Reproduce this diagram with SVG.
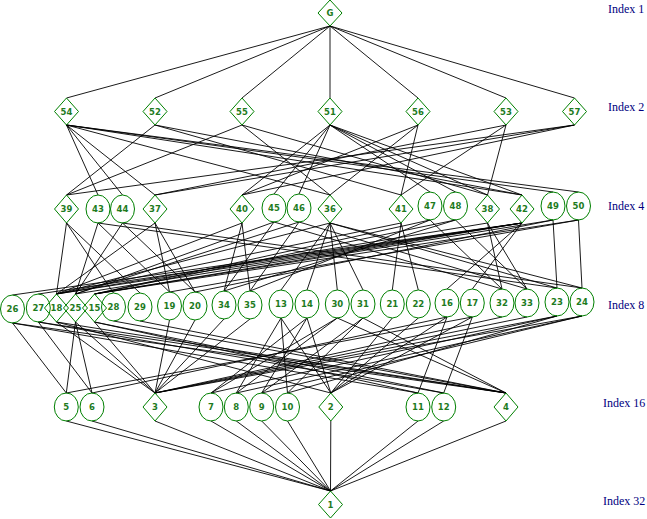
<svg xmlns="http://www.w3.org/2000/svg" width="647" height="519" viewBox="0 0 647 519">
<style>
.n{fill:none;stroke:#008000;stroke-width:1}
.t{font-family:"DejaVu Sans",sans-serif;font-size:8.5px;font-weight:bold;fill:#1e7b1e;text-anchor:middle}
.i{font-family:"Liberation Serif",serif;font-size:12px;fill:#000080}
#edges line{stroke:#000;stroke-width:0.9}
</style>
<rect width="647" height="519" fill="#fff"/>
<g id="edges">
<line x1="330" y1="26" x2="66.5" y2="98"/>
<line x1="330" y1="26" x2="155" y2="98"/>
<line x1="330" y1="26" x2="242" y2="98"/>
<line x1="330" y1="26" x2="330" y2="98"/>
<line x1="330" y1="26" x2="418" y2="98"/>
<line x1="330" y1="26" x2="506" y2="98"/>
<line x1="330" y1="26" x2="574.5" y2="98"/>
<line x1="66.5" y1="125" x2="98" y2="195"/>
<line x1="66.5" y1="125" x2="122.5" y2="195"/>
<line x1="66.5" y1="125" x2="553" y2="192"/>
<line x1="66.5" y1="125" x2="578.5" y2="192"/>
<line x1="66.5" y1="125" x2="522" y2="195"/>
<line x1="66.5" y1="125" x2="330" y2="195"/>
<line x1="66.5" y1="125" x2="155" y2="195"/>
<line x1="330" y1="125" x2="274" y2="194"/>
<line x1="330" y1="125" x2="299" y2="194"/>
<line x1="330" y1="125" x2="430" y2="192"/>
<line x1="330" y1="125" x2="455.5" y2="192"/>
<line x1="330" y1="125" x2="522" y2="195"/>
<line x1="330" y1="125" x2="487.5" y2="195"/>
<line x1="330" y1="125" x2="242" y2="195"/>
<line x1="155" y1="125" x2="66.5" y2="195"/>
<line x1="155" y1="125" x2="522" y2="195"/>
<line x1="155" y1="125" x2="401" y2="195"/>
<line x1="242" y1="125" x2="66.5" y2="195"/>
<line x1="242" y1="125" x2="330" y2="195"/>
<line x1="242" y1="125" x2="487.5" y2="195"/>
<line x1="418" y1="125" x2="401" y2="195"/>
<line x1="418" y1="125" x2="330" y2="195"/>
<line x1="418" y1="125" x2="242" y2="195"/>
<line x1="574.5" y1="125" x2="66.5" y2="195"/>
<line x1="574.5" y1="125" x2="155" y2="195"/>
<line x1="574.5" y1="125" x2="242" y2="195"/>
<line x1="506" y1="125" x2="401" y2="195"/>
<line x1="506" y1="125" x2="155" y2="195"/>
<line x1="506" y1="125" x2="487.5" y2="195"/>
<line x1="522" y1="223" x2="56.5" y2="294"/>
<line x1="522" y1="223" x2="75.5" y2="294"/>
<line x1="522" y1="223" x2="94.5" y2="294"/>
<line x1="522" y1="223" x2="12.5" y2="295"/>
<line x1="522" y1="223" x2="38.3" y2="294"/>
<line x1="522" y1="223" x2="447" y2="289"/>
<line x1="522" y1="223" x2="472.3" y2="289"/>
<line x1="330" y1="223" x2="56.5" y2="294"/>
<line x1="330" y1="223" x2="281" y2="290"/>
<line x1="330" y1="223" x2="307" y2="290"/>
<line x1="330" y1="223" x2="337.3" y2="290"/>
<line x1="330" y1="223" x2="363" y2="290"/>
<line x1="330" y1="223" x2="557" y2="288"/>
<line x1="330" y1="223" x2="582" y2="288"/>
<line x1="155" y1="223" x2="56.5" y2="294"/>
<line x1="155" y1="223" x2="169.5" y2="292"/>
<line x1="155" y1="223" x2="195" y2="292"/>
<line x1="487.5" y1="223" x2="56.5" y2="294"/>
<line x1="487.5" y1="223" x2="502" y2="289"/>
<line x1="487.5" y1="223" x2="527" y2="289"/>
<line x1="242" y1="223" x2="56.5" y2="294"/>
<line x1="242" y1="223" x2="224" y2="291"/>
<line x1="242" y1="223" x2="250" y2="291"/>
<line x1="66.5" y1="223" x2="56.5" y2="294"/>
<line x1="66.5" y1="223" x2="113.5" y2="293"/>
<line x1="66.5" y1="223" x2="140" y2="293"/>
<line x1="401" y1="223" x2="56.5" y2="294"/>
<line x1="401" y1="223" x2="392.3" y2="290"/>
<line x1="401" y1="223" x2="418.3" y2="290"/>
<line x1="274" y1="222" x2="75.5" y2="294"/>
<line x1="274" y1="222" x2="502" y2="289"/>
<line x1="274" y1="222" x2="224" y2="291"/>
<line x1="299" y1="222" x2="75.5" y2="294"/>
<line x1="299" y1="222" x2="527" y2="289"/>
<line x1="299" y1="222" x2="250" y2="291"/>
<line x1="430" y1="220" x2="94.5" y2="294"/>
<line x1="430" y1="220" x2="502" y2="289"/>
<line x1="430" y1="220" x2="250" y2="291"/>
<line x1="455.5" y1="220" x2="94.5" y2="294"/>
<line x1="455.5" y1="220" x2="527" y2="289"/>
<line x1="455.5" y1="220" x2="224" y2="291"/>
<line x1="98" y1="223" x2="75.5" y2="294"/>
<line x1="98" y1="223" x2="557" y2="288"/>
<line x1="98" y1="223" x2="169.5" y2="292"/>
<line x1="122.5" y1="223" x2="75.5" y2="294"/>
<line x1="122.5" y1="223" x2="582" y2="288"/>
<line x1="122.5" y1="223" x2="195" y2="292"/>
<line x1="553" y1="220" x2="94.5" y2="294"/>
<line x1="553" y1="220" x2="557" y2="288"/>
<line x1="553" y1="220" x2="195" y2="292"/>
<line x1="578.5" y1="220" x2="94.5" y2="294"/>
<line x1="578.5" y1="220" x2="582" y2="288"/>
<line x1="578.5" y1="220" x2="169.5" y2="292"/>
<line x1="56.5" y1="322" x2="330.8" y2="393"/>
<line x1="56.5" y1="322" x2="155" y2="393"/>
<line x1="56.5" y1="322" x2="506" y2="393"/>
<line x1="75.5" y1="322" x2="155" y2="393"/>
<line x1="75.5" y1="322" x2="66.3" y2="393"/>
<line x1="75.5" y1="322" x2="92" y2="393"/>
<line x1="94.5" y1="322" x2="155" y2="393"/>
<line x1="94.5" y1="322" x2="418" y2="393"/>
<line x1="94.5" y1="322" x2="443.7" y2="393"/>
<line x1="12.5" y1="323" x2="506" y2="393"/>
<line x1="12.5" y1="323" x2="66.3" y2="393"/>
<line x1="12.5" y1="323" x2="418" y2="393"/>
<line x1="38.3" y1="322" x2="506" y2="393"/>
<line x1="38.3" y1="322" x2="92" y2="393"/>
<line x1="38.3" y1="322" x2="443.7" y2="393"/>
<line x1="447" y1="317" x2="330.8" y2="393"/>
<line x1="447" y1="317" x2="92" y2="393"/>
<line x1="447" y1="317" x2="418" y2="393"/>
<line x1="472.3" y1="317" x2="330.8" y2="393"/>
<line x1="472.3" y1="317" x2="66.3" y2="393"/>
<line x1="472.3" y1="317" x2="443.7" y2="393"/>
<line x1="281" y1="318" x2="330.8" y2="393"/>
<line x1="281" y1="318" x2="236.3" y2="393"/>
<line x1="281" y1="318" x2="287.5" y2="393"/>
<line x1="307" y1="318" x2="330.8" y2="393"/>
<line x1="307" y1="318" x2="211" y2="393"/>
<line x1="307" y1="318" x2="261.7" y2="393"/>
<line x1="337.3" y1="318" x2="506" y2="393"/>
<line x1="337.3" y1="318" x2="211" y2="393"/>
<line x1="337.3" y1="318" x2="236.3" y2="393"/>
<line x1="363" y1="318" x2="506" y2="393"/>
<line x1="363" y1="318" x2="261.7" y2="393"/>
<line x1="363" y1="318" x2="287.5" y2="393"/>
<line x1="557" y1="316" x2="155" y2="393"/>
<line x1="557" y1="316" x2="211" y2="393"/>
<line x1="557" y1="316" x2="287.5" y2="393"/>
<line x1="582" y1="316" x2="155" y2="393"/>
<line x1="582" y1="316" x2="236.3" y2="393"/>
<line x1="582" y1="316" x2="261.7" y2="393"/>
<line x1="113.5" y1="321" x2="506" y2="393"/>
<line x1="140" y1="321" x2="506" y2="393"/>
<line x1="392.3" y1="318" x2="330.8" y2="393"/>
<line x1="418.3" y1="318" x2="330.8" y2="393"/>
<line x1="502" y1="317" x2="155" y2="393"/>
<line x1="527" y1="317" x2="155" y2="393"/>
<line x1="224" y1="319" x2="155" y2="393"/>
<line x1="250" y1="319" x2="155" y2="393"/>
<line x1="169.5" y1="320" x2="155" y2="393"/>
<line x1="195" y1="320" x2="155" y2="393"/>
<line x1="66.3" y1="421" x2="330.5" y2="491"/>
<line x1="92" y1="421" x2="330.5" y2="491"/>
<line x1="155" y1="421" x2="330.5" y2="491"/>
<line x1="211" y1="421" x2="330.5" y2="491"/>
<line x1="236.3" y1="421" x2="330.5" y2="491"/>
<line x1="261.7" y1="421" x2="330.5" y2="491"/>
<line x1="287.5" y1="421" x2="330.5" y2="491"/>
<line x1="330.8" y1="421" x2="330.5" y2="491"/>
<line x1="418" y1="421" x2="330.5" y2="491"/>
<line x1="443.7" y1="421" x2="330.5" y2="491"/>
<line x1="506" y1="421" x2="330.5" y2="491"/>
</g>
<g id="nG"><path class="n" d="M330 0L342 13L330 26L318 13Z"/><text class="t" x="330" y="16">G</text></g>
<g id="n54"><path class="n" d="M66.5 98L78.5 111.5L66.5 125L54.5 111.5Z"/><text class="t" x="66.5" y="114.5">54</text></g>
<g id="n52"><path class="n" d="M155 98L167 111.5L155 125L143 111.5Z"/><text class="t" x="155" y="114.5">52</text></g>
<g id="n55"><path class="n" d="M242 98L254 111.5L242 125L230 111.5Z"/><text class="t" x="242" y="114.5">55</text></g>
<g id="n51"><path class="n" d="M330 98L342 111.5L330 125L318 111.5Z"/><text class="t" x="330" y="114.5">51</text></g>
<g id="n56"><path class="n" d="M418 98L430 111.5L418 125L406 111.5Z"/><text class="t" x="418" y="114.5">56</text></g>
<g id="n53"><path class="n" d="M506 98L518 111.5L506 125L494 111.5Z"/><text class="t" x="506" y="114.5">53</text></g>
<g id="n57"><path class="n" d="M574.5 98L586.5 111.5L574.5 125L562.5 111.5Z"/><text class="t" x="574.5" y="114.5">57</text></g>
<g id="n39"><path class="n" d="M66.5 195L78.5 209L66.5 223L54.5 209Z"/><text class="t" x="66.5" y="212">39</text></g>
<g id="n43"><ellipse class="n" cx="98" cy="209" rx="12" ry="14"/><text class="t" x="98" y="212">43</text></g>
<g id="n44"><ellipse class="n" cx="122.5" cy="209" rx="12" ry="14"/><text class="t" x="122.5" y="212">44</text></g>
<g id="n37"><path class="n" d="M155 195L167 209L155 223L143 209Z"/><text class="t" x="155" y="212">37</text></g>
<g id="n40"><path class="n" d="M242 195L254 209L242 223L230 209Z"/><text class="t" x="242" y="212">40</text></g>
<g id="n45"><ellipse class="n" cx="274" cy="208" rx="12" ry="14"/><text class="t" x="274" y="211">45</text></g>
<g id="n46"><ellipse class="n" cx="299" cy="208" rx="12" ry="14"/><text class="t" x="299" y="211">46</text></g>
<g id="n36"><path class="n" d="M330 195L342 209L330 223L318 209Z"/><text class="t" x="330" y="212">36</text></g>
<g id="n41"><path class="n" d="M401 195L413 209L401 223L389 209Z"/><text class="t" x="401" y="212">41</text></g>
<g id="n47"><ellipse class="n" cx="430" cy="206" rx="12" ry="14"/><text class="t" x="430" y="209">47</text></g>
<g id="n48"><ellipse class="n" cx="455.5" cy="206" rx="12" ry="14"/><text class="t" x="455.5" y="209">48</text></g>
<g id="n38"><path class="n" d="M487.5 195L499.5 209L487.5 223L475.5 209Z"/><text class="t" x="487.5" y="212">38</text></g>
<g id="n42"><path class="n" d="M522 195L534 209L522 223L510 209Z"/><text class="t" x="522" y="212">42</text></g>
<g id="n49"><ellipse class="n" cx="553" cy="206" rx="12" ry="14"/><text class="t" x="553" y="209">49</text></g>
<g id="n50"><ellipse class="n" cx="578.5" cy="206" rx="12" ry="14"/><text class="t" x="578.5" y="209">50</text></g>
<g id="n26"><ellipse class="n" cx="12.5" cy="309" rx="12" ry="14"/><text class="t" x="12.5" y="312">26</text></g>
<g id="n27"><ellipse class="n" cx="38.3" cy="308" rx="12" ry="14"/><text class="t" x="38.3" y="311">27</text></g>
<g id="n18"><path class="n" d="M56.5 294L68.5 308L56.5 322L44.5 308Z"/><text class="t" x="56.5" y="311">18</text></g>
<g id="n25"><path class="n" d="M75.5 294L87.5 308L75.5 322L63.5 308Z"/><text class="t" x="75.5" y="311">25</text></g>
<g id="n15"><path class="n" d="M94.5 294L106.5 308L94.5 322L82.5 308Z"/><text class="t" x="94.5" y="311">15</text></g>
<g id="n28"><ellipse class="n" cx="113.5" cy="307" rx="12" ry="14"/><text class="t" x="113.5" y="310">28</text></g>
<g id="n29"><ellipse class="n" cx="140" cy="307" rx="12" ry="14"/><text class="t" x="140" y="310">29</text></g>
<g id="n19"><ellipse class="n" cx="169.5" cy="306" rx="12" ry="14"/><text class="t" x="169.5" y="309">19</text></g>
<g id="n20"><ellipse class="n" cx="195" cy="306" rx="12" ry="14"/><text class="t" x="195" y="309">20</text></g>
<g id="n34"><ellipse class="n" cx="224" cy="305" rx="12" ry="14"/><text class="t" x="224" y="308">34</text></g>
<g id="n35"><ellipse class="n" cx="250" cy="305" rx="12" ry="14"/><text class="t" x="250" y="308">35</text></g>
<g id="n13"><ellipse class="n" cx="281" cy="304" rx="12" ry="14"/><text class="t" x="281" y="307">13</text></g>
<g id="n14"><ellipse class="n" cx="307" cy="304" rx="12" ry="14"/><text class="t" x="307" y="307">14</text></g>
<g id="n30"><ellipse class="n" cx="337.3" cy="304" rx="12" ry="14"/><text class="t" x="337.3" y="307">30</text></g>
<g id="n31"><ellipse class="n" cx="363" cy="304" rx="12" ry="14"/><text class="t" x="363" y="307">31</text></g>
<g id="n21"><ellipse class="n" cx="392.3" cy="304" rx="12" ry="14"/><text class="t" x="392.3" y="307">21</text></g>
<g id="n22"><ellipse class="n" cx="418.3" cy="304" rx="12" ry="14"/><text class="t" x="418.3" y="307">22</text></g>
<g id="n16"><ellipse class="n" cx="447" cy="303" rx="12" ry="14"/><text class="t" x="447" y="306">16</text></g>
<g id="n17"><ellipse class="n" cx="472.3" cy="303" rx="12" ry="14"/><text class="t" x="472.3" y="306">17</text></g>
<g id="n32"><ellipse class="n" cx="502" cy="303" rx="12" ry="14"/><text class="t" x="502" y="306">32</text></g>
<g id="n33"><ellipse class="n" cx="527" cy="303" rx="12" ry="14"/><text class="t" x="527" y="306">33</text></g>
<g id="n23"><ellipse class="n" cx="557" cy="302" rx="12" ry="14"/><text class="t" x="557" y="305">23</text></g>
<g id="n24"><ellipse class="n" cx="582" cy="302" rx="12" ry="14"/><text class="t" x="582" y="305">24</text></g>
<g id="n5"><ellipse class="n" cx="66.3" cy="407" rx="12" ry="14"/><text class="t" x="66.3" y="410">5</text></g>
<g id="n6"><ellipse class="n" cx="92" cy="407" rx="12" ry="14"/><text class="t" x="92" y="410">6</text></g>
<g id="n3"><path class="n" d="M155 393L167 407L155 421L143 407Z"/><text class="t" x="155" y="410">3</text></g>
<g id="n7"><ellipse class="n" cx="211" cy="407" rx="12" ry="14"/><text class="t" x="211" y="410">7</text></g>
<g id="n8"><ellipse class="n" cx="236.3" cy="407" rx="12" ry="14"/><text class="t" x="236.3" y="410">8</text></g>
<g id="n9"><ellipse class="n" cx="261.7" cy="407" rx="12" ry="14"/><text class="t" x="261.7" y="410">9</text></g>
<g id="n10"><ellipse class="n" cx="287.5" cy="407" rx="12" ry="14"/><text class="t" x="287.5" y="410">10</text></g>
<g id="n2"><path class="n" d="M330.8 393L342.8 407L330.8 421L318.8 407Z"/><text class="t" x="330.8" y="410">2</text></g>
<g id="n11"><ellipse class="n" cx="418" cy="407" rx="12" ry="14"/><text class="t" x="418" y="410">11</text></g>
<g id="n12"><ellipse class="n" cx="443.7" cy="407" rx="12" ry="14"/><text class="t" x="443.7" y="410">12</text></g>
<g id="n4"><path class="n" d="M506 393L518 407L506 421L494 407Z"/><text class="t" x="506" y="410">4</text></g>
<g id="n1"><path class="n" d="M330.5 491L342.5 504.5L330.5 518L318.5 504.5Z"/><text class="t" x="330.5" y="507.5">1</text></g>
<g id="labels">
<text class="i" x="608" y="13">Index 1</text>
<text class="i" x="608" y="111">Index 2</text>
<text class="i" x="608" y="210">Index 4</text>
<text class="i" x="608" y="309">Index 8</text>
<text class="i" x="603" y="407">Index 16</text>
<text class="i" x="603" y="505">Index 32</text>
</g>
</svg>
